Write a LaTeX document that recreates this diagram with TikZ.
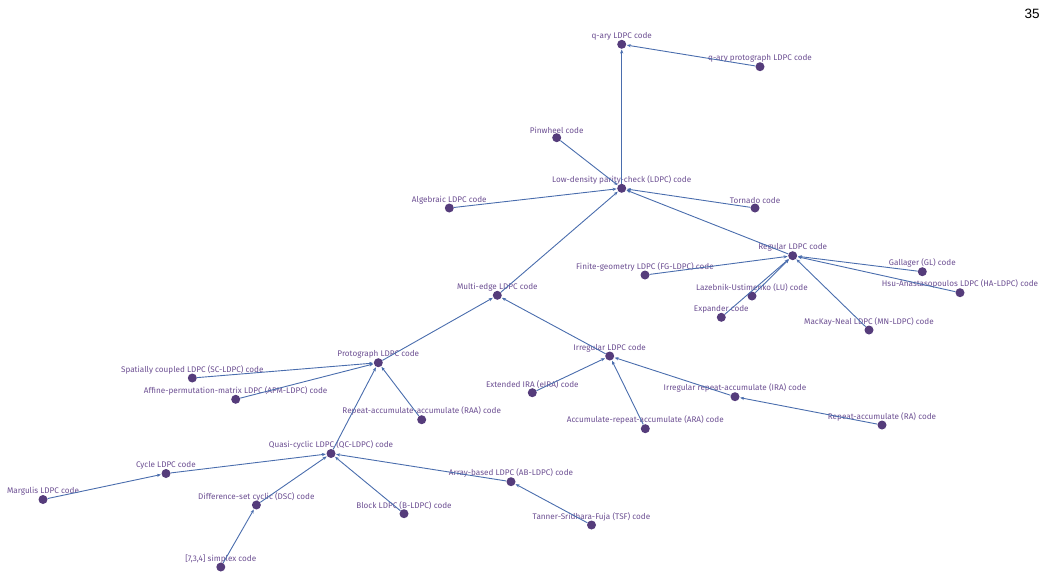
\documentclass[tikz,border=0pt]{standalone}
\usepackage{fontspec}
\setmainfont{Fira Sans}
\newfontfamily\pagefont{Liberation Sans}
\usetikzlibrary{arrows.meta}
\definecolor{dotc}{HTML}{553C7B}
\definecolor{labc}{HTML}{6C4F92}
\definecolor{edgec}{HTML}{4A6DAD}
\begin{document}
\begin{tikzpicture}[x=1pt,y=-1pt,
        code/.style={circle,fill=dotc,inner sep=0pt,minimum size=9pt,
            label={[labc,inner sep=0.3pt,label distance=-1pt,font=\fontsize{8.15}{9}\selectfont]above:{#1}}},
        link/.style={-{Stealth[length=4pt,width=3.2pt]},edgec,line width=0.9pt,shorten >=0.5pt}]
                \useasboundingbox (0,0) rectangle (1047,587);

                \node[font=\pagefont\fontsize{13.5}{15}\selectfont] (page) at (1032,14) {35};

                \node[code={q-ary LDPC code}] (qary) at (621.7,44.3) {};
                \node[code={q-ary protograph LDPC code}] (qaryproto) at (760,66.7) {};
                \node[code={Pinwheel code}] (pinwheel) at (556.7,137.7) {};
                \node[code={Low-density parity-check (LDPC) code}] (ldpc) at (621.7,188.3) {};
                \node[code={Algebraic LDPC code}] (algebraic) at (449.3,208) {};
                \node[code={Tornado code}] (tornado) at (755,208) {};

                \node[code={Regular LDPC code}] (regular) at (792.7,255.7) {};
                \node[code={Finite-geometry LDPC (FG-LDPC) code}] (fg) at (645,275) {};
                \node[code={Gallager (GL) code}] (gallager) at (922.3,271.7) {};
                \node[code={Hsu-Anastasopoulos LDPC (HA-LDPC) code}] (ha) at (960,292.7) {};
                \node[code={Lazebnik-Ustimenko (LU) code}] (lu) at (752,296) {};
                \node[code={Expander code}] (expander) at (721.3,317.3) {};
                \node[code={MacKay-Neal LDPC (MN-LDPC) code}] (mn) at (869,330) {};

                \node[code={Multi-edge LDPC code}] (multiedge) at (497.3,295.3) {};
                \node[code={Protograph LDPC code}] (proto) at (378.3,362.7) {};
                \node[code={Spatially coupled LDPC (SC-LDPC) code}] (sc) at (192.3,378) {};
                \node[code={Affine-permutation-matrix LDPC (APM-LDPC) code}] (apm) at (235.7,399.3) {};
                \node[code={Repeat-accumulate-accumulate (RAA) code}] (raa) at (421.7,419.7) {};

                \node[code={Irregular LDPC code}] (irregular) at (609.7,356) {};
                \node[code={Extended IRA (eIRA) code}] (eira) at (532.3,392.7) {};
                \node[code={Irregular repeat-accumulate (IRA) code}] (ira) at (735,396.7) {};
                \node[code={Accumulate-repeat-accumulate (ARA) code}] (ara) at (645.3,428.7) {};
                \node[code={Repeat-accumulate (RA) code}] (ra) at (882,425) {};

                \node[code={Quasi-cyclic LDPC (QC-LDPC) code}] (qc) at (331,453.5) {};
                \node[code={Cycle LDPC code}] (cycle) at (166,473.5) {};
                \node[code={Margulis LDPC code}] (margulis) at (43,499.5) {};
                \node[code={Difference-set cyclic (DSC) code}] (dsc) at (256.4,505) {};
                \node[code={[7,3,4] simplex code}] (simplex) at (220.8,567) {};
                \node[code={Block LDPC (B-LDPC) code}] (block) at (404,513.7) {};
                \node[code={Array-based LDPC (AB-LDPC) code}] (ab) at (511,481.7) {};
                \node[code={Tanner-Sridhara-Fuja (TSF) code}] (tsf) at (591.5,525) {};

                \draw[link] (ldpc) -- (qary);
                \draw[link] (qaryproto) -- (qary);
                \draw[link] (pinwheel) -- (ldpc);
                \draw[link] (algebraic) -- (ldpc);
                \draw[link] (tornado) -- (ldpc);
                \draw[link] (multiedge) -- (ldpc);
                \draw[link] (regular) -- (ldpc);

                \draw[link] (fg) -- (regular);
                \draw[link] (gallager) -- (regular);
                \draw[link] (ha) -- (regular);
                \draw[link] (lu) -- (regular);
                \draw[link] (expander) -- (regular);
                \draw[link] (mn) -- (regular);

                \draw[link] (proto) -- (multiedge);
                \draw[link] (irregular) -- (multiedge);
                \draw[link] (sc) -- (proto);
                \draw[link] (apm) -- (proto);
                \draw[link] (raa) -- (proto);
                \draw[link] (qc) -- (proto);

                \draw[link] (eira) -- (irregular);
                \draw[link] (ara) -- (irregular);
                \draw[link] (ira) -- (irregular);
                \draw[link] (ra) -- (ira);

                \draw[link] (cycle) -- (qc);
                \draw[link] (dsc) -- (qc);
                \draw[link] (block) -- (qc);
                \draw[link] (ab) -- (qc);
                \draw[link] (margulis) -- (cycle);
                \draw[link] (simplex) -- (dsc);
                \draw[link] (tsf) -- (ab);
\end{tikzpicture}
\end{document}
